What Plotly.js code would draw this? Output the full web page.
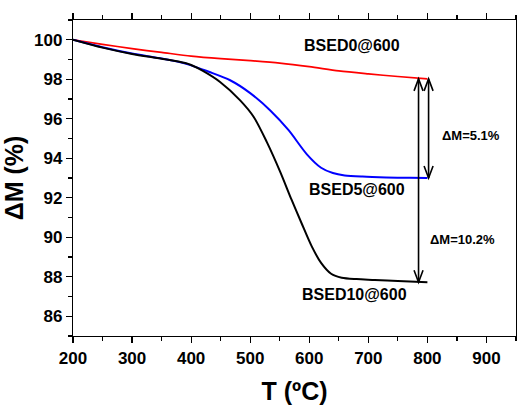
<!DOCTYPE html>
<html>
<head>
<meta charset="utf-8">
<script src="https://cdn.plot.ly/plotly-3.0.1.min.js"></script>
<style>html,body{margin:0;padding:0;background:#fff;}#chart{width:517px;height:405px;}</style>
</head>
<body>
<div id="chart"></div>
<script>
// Series data (T in °C, mass in %)
const tBSED0 = [200, 250, 300, 350, 400, 450, 500, 550, 600, 650, 700, 750, 800];
const mBSED0 = [100, 99.77, 99.55, 99.36, 99.17, 99.04, 98.94, 98.82, 98.64, 98.42, 98.27, 98.14, 98.02];

const tBSED5 = [200, 250, 300, 350, 390, 400, 430, 466, 500, 534, 565, 596, 620, 640, 660, 690, 730, 770, 800];
const mBSED5 = [100, 99.62, 99.30, 99.05, 98.80, 98.70, 98.38, 97.95, 97.30, 96.42, 95.42, 94.20, 93.52, 93.25, 93.13, 93.07, 93.03, 93.01, 93.00];

const tBSED10 = [200, 250, 300, 350, 390, 400, 420, 449, 483, 506, 528, 551, 570, 587, 604, 620, 637, 655, 680, 711, 750, 800];
const mBSED10 = [100, 99.60, 99.28, 99.04, 98.82, 98.72, 98.42, 97.86, 96.93, 96.09, 94.83, 93.30, 91.90, 90.71, 89.55, 88.70, 88.15, 87.95, 87.88, 87.84, 87.78, 87.72];

// Labels
const seriesLabels = ["BSED0@600", "BSED5@600", "BSED10@600"];
const labelT = [672, 681, 676];
const labelM = [99.7, 92.4, 87.1];
const deltaLabels = ["\u0394M=5.1%", "\u0394M=10.2%"];
const deltaLabelT = [874, 859];
const deltaLabelM = [95.17, 89.9];
// Arrow x positions (T): [long arrow BSED0->BSED10, short arrow BSED0->BSED5]
const arrowT = [785, 802];

const xTicks = [200, 300, 400, 500, 600, 700, 800, 900];
const yTicks = [86, 88, 90, 92, 94, 96, 98, 100];

const last = a => a[a.length - 1];
const FONT = "Arial, 'Liberation Sans', sans-serif";

const traces = [
  {x: tBSED0, y: mBSED0, mode: 'lines', line: {color: '#ff0000', width: 1.7, shape: 'spline', smoothing: 0.8}, name: 'BSED0@600'},
  {x: tBSED5, y: mBSED5, mode: 'lines', line: {color: '#0000ff', width: 2, shape: 'spline', smoothing: 0.8}, name: 'BSED5@600'},
  {x: tBSED10, y: mBSED10, mode: 'lines', line: {color: '#000000', width: 2, shape: 'spline', smoothing: 0.8}, name: 'BSED10@600'}
];

const topM = last(mBSED0);
const arrowEnds = [last(mBSED10), last(mBSED5)];
const shapes = [];
function head(x, y, up) {
  const s = up ? 1 : -1;
  return {type: 'path', xref: 'x', yref: 'y', xsizemode: 'pixel', ysizemode: 'pixel',
    xanchor: x, yanchor: y, path: `M -4.5 ${-12*s} L 0 0 L 4.5 ${-12*s}`,
    line: {color: '#000', width: 1.6}};
}
for (let i = 0; i < arrowT.length; i++) {
  shapes.push({type: 'line', xref: 'x', yref: 'y', x0: arrowT[i], x1: arrowT[i], y0: topM, y1: arrowEnds[i], line: {color: '#000', width: 1.6}});
  shapes.push(head(arrowT[i], topM, true));
  shapes.push(head(arrowT[i], arrowEnds[i], false));
}

const annotations = [];
for (let i = 0; i < seriesLabels.length; i++) {
  annotations.push({x: labelT[i], y: labelM[i], xref: 'x', yref: 'y', text: '<b>' + seriesLabels[i] + '</b>', showarrow: false, font: {family: FONT, size: 16, color: '#000'}});
}
for (let i = 0; i < deltaLabels.length; i++) {
  annotations.push({x: deltaLabelT[i], y: deltaLabelM[i], xref: 'x', yref: 'y', text: '<b>' + deltaLabels[i] + '</b>', showarrow: false, font: {family: FONT, size: 13, color: '#000'}});
}

const layout = {
  width: 517, height: 405,
  margin: {l: 73, r: 1, t: 19.5, b: 68.5, pad: 0},
  paper_bgcolor: '#fff', plot_bgcolor: '#fff',
  showlegend: false,
  font: {family: FONT, color: '#000'},
  xaxis: {
    range: [200, 950], tickvals: xTicks, ticktext: xTicks.map(v => '<b>' + v + '</b>'),
    ticks: 'outside', ticklen: 6, tickwidth: 1.2, tickcolor: '#000',
    minor: {dtick: 50, tick0: 0, ticks: 'outside', ticklen: 4, tickwidth: 1.2, tickcolor: '#000'},
    showline: true, linecolor: '#000', linewidth: 1.2, mirror: 'allticks',
    showgrid: false, zeroline: false,
    tickfont: {family: FONT, size: 17, color: '#000'},
    title: {text: '<b>T (\u00baC)</b>', font: {family: FONT, size: 25, color: '#000'}, standoff: 18}
  },
  yaxis: {
    range: [85, 101], tickvals: yTicks, ticktext: yTicks.map(v => '<b>' + v + '</b>'),
    ticks: 'outside', ticklen: 6, tickwidth: 1.2, tickcolor: '#000',
    minor: {dtick: 1, tick0: 0, ticks: 'outside', ticklen: 4, tickwidth: 1.2, tickcolor: '#000'},
    showline: true, linecolor: '#000', linewidth: 1.2, mirror: 'allticks',
    showgrid: false, zeroline: false,
    tickfont: {family: FONT, size: 17, color: '#000'},
    title: {text: '<b>\u0394M (%)</b>', font: {family: FONT, size: 25, color: '#000'}, standoff: 8}
  },
  shapes: shapes,
  annotations: annotations
};

Plotly.newPlot('chart', traces, layout, {displayModeBar: false, staticPlot: true});
</script>
</body>
</html>
